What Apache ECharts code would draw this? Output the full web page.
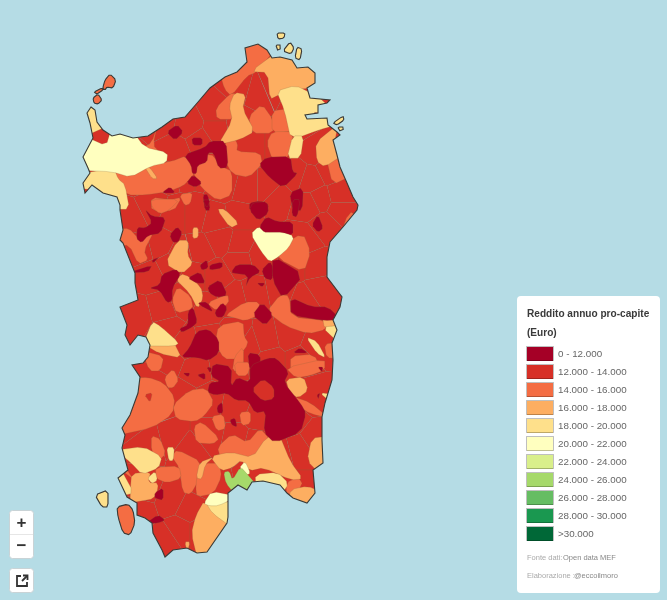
<!DOCTYPE html>
<html><head><meta charset="utf-8">
<style>html,body{margin:0;padding:0;background:#b5dce5}#c{width:667px;height:600px}#c canvas{filter:blur(.45px)}</style>
<script src="https://cdn.jsdelivr.net/npm/echarts@6/dist/echarts.min.js"></script>
</head><body><div id="c"></div>
<script>
// ---------- DATA ----------
const fasceLabel = ['0 - 12.000','12.000 - 14.000','14.000 - 16.000','16.000 - 18.000','18.000 - 20.000','20.000 - 22.000','22.000 - 24.000','24.000 - 26.000','26.000 - 28.000','28.000 - 30.000','>30.000'];
const fasceMin = [0,12000,14000,16000,18000,20000,22000,24000,26000,28000,30000];
const fasceMax = [12000,14000,16000,18000,20000,22000,24000,26000,28000,30000,99000];
const fasceColor = ['#a50026','#d73027','#f46d43','#fdae61','#fee08b','#ffffbf','#d9ef8b','#a6d96a','#66bd63','#1a9850','#006837'];
const redditoStimato = [11400,13100,15000,17000,19000,21000,23000,25000,27000,29000,31000];

// ---------- MAP GEOMETRY (hand-traced map asset, picture pixels) ----------
const costa = "91,107 95,110 97,122 103,130 112,136 120,134 133,138 148,136 162,127 173,119 185,117 198,102 210,88 225,77 237,72 247,62 245,48 258,44 267,50 272,58 280,57 292,60 297,68 308,67 315,73 315,83 307,88 310,98 330,100 327,103 318,105 318,113 305,115 307,119 327,118 328,125 337,132 340,135 333,140 337,155 340,167 347,183 353,197 358,205 357,210 343,227 330,242 327,257 327,277 342,297 340,307 333,320 337,330 332,343 333,360 332,380 325,403 322,417 322,440 323,463 313,470 315,493 307,503 293,498 287,493 280,485 263,481 252,482 247,490 238,485 228,493 228,517 227,523 207,552 197,553 187,548 173,550 165,557 162,550 153,533 152,523 145,518 137,515 137,503 127,497 118,478 128,470 122,448 125,435 122,428 130,415 138,393 140,377 132,365 143,363 148,357 150,345 146,337 138,335 130,345 125,335 127,325 120,307 138,300 135,283 135,273 123,243 120,240 123,230 120,210 120,205 117,197 103,193 92,185 85,193 83,183 90,173 88,168 83,157 93,138 90,123 87,113";
const isole = [
 [2,"103,87 105,80 110,74 116,80 113,88 107,87 105,90 103,89"],
 [2,"94,92 102,88 103,90 97,94"],
 [2,"93,98 98,94 102,100 98,104 94,103"],
 [4,"283,51 290,42 294,48 291,54"],
 [4,"297,47 302,49 300,60 295,58"],
 [4,"276,45 281,45 280,50 277,50"],
 [4,"277,33 285,33 284,38 278,39"],
 [4,"333,123 343,116 344,120 337,125"],
 [4,"338,127 344,127 343,130 339,131"],
 [4,"95,495 108,490 108,507 102,507"],
 [2,"117,507 128,504 133,510 135,523 130,535 123,533 118,517"]
];
const siti = "100,150 125,160 160,120 190,125 215,112 240,85 200,140 175,150 215,130 240,125 258,90 270,85 300,100 300,125 250,145 280,145 315,150 330,170 310,180 340,195 320,200 295,175 270,190 245,190 225,185 205,170 185,170 165,175 140,180 130,215 150,205 175,215 195,215 215,220 240,215 275,195 310,205 340,210 325,225 305,240 295,265 315,265 320,290 305,300 280,290 260,255 240,245 220,240 200,250 180,255 160,245 140,250 150,275 170,265 195,275 215,275 240,260 255,295 235,300 205,310 185,300 160,310 140,315 165,330 185,345 210,340 235,335 265,340 290,335 315,345 300,360 270,360 250,345 225,365 195,370 170,360 155,385 180,395 210,400 235,405 260,415 290,420 310,395 315,440 300,450 280,455 255,445 235,440 210,435 190,450 170,435 150,440 135,420 145,410 160,405 145,490 170,500 190,510 180,530 165,540 140,510 205,480 215,520 260,470 300,490 200,530";
const fasciaPoligoni = [
 [2,[ // 14-16
 "227,78 237,72 247,62 245,48 258,44 267,50 272,58 255,72 247,75 233,93 227,87","217,108 230,95 235,95 230,107 233,118 218,118","250,117 262,106 272,120 272,132 253,132","273,112 287,110 292,130 273,132","273,133 292,133 288,157 273,158 268,143","233,138 238,145 237,152 258,153 260,163 248,175 233,172 225,157 227,143","197,165 210,155 222,168 230,172 230,193 217,198 203,187 195,173","142,148 152,143 163,130 153,145 160,152","327,158 337,155 345,177 333,183","115,172 127,170 140,168 170,163 183,158 193,170 187,178 180,185 167,190 147,193 130,193 125,185","153,198 170,200 180,198 173,210 153,210","180,195 192,193 190,203 185,205","152,200 178,200 168,210 160,213 153,207","122,232 130,230 137,238 152,233 143,250 147,258 138,262 130,245 122,242","280,248 302,235 309,252 303,270 280,258","328,243 348,213 353,215 340,233 332,245","173,300 178,288 190,297 192,308 177,312","208,303 227,295 228,303 217,310","227,315 245,303 258,303 257,315 245,320 235,317","270,312 282,297 290,298 292,317 323,320 323,328 307,332 287,325","220,327 242,323 243,337 247,343 237,357 225,357 217,343","150,353 163,357 160,370 150,370","235,357 243,348 243,370 233,370","292,357 313,355 320,370 292,370","325,345 337,343 332,358 327,357","123,430 133,393 140,377 148,380 162,385 172,398 170,413 152,425 130,428","165,378 173,370 178,380 173,387 168,387","175,405 190,392 205,390 212,403 203,415 195,420 178,418","212,417 223,415 225,428 217,430","195,427 202,423 218,438 212,443 197,442","240,413 250,412 250,423 242,425","235,363 250,363 247,375 237,375","288,368 323,360 323,370 310,375 297,377","293,397 310,403 320,417 310,413 297,405","220,447 233,435 247,443 258,430 267,440 253,458 233,453 223,457","152,437 160,440 165,453 158,460 152,450","173,458 178,452 200,463 197,480 190,492 183,490 180,468","157,468 178,467 180,478 167,482 157,478","198,477 205,465 218,465 220,477 213,492 198,495 197,487","287,483 298,478 302,485 290,497","125,475 132,472 135,482"
 ]],
 [3,[ // 16-18
 "255,72 273,58 292,60 297,68 308,67 315,73 315,83 307,88 297,88 280,93 272,97 270,73","235,95 245,97 242,110 253,130 240,137 220,142 233,120 230,107","317,143 333,132 340,137 337,155 325,165 318,160","107,135 120,134 133,138 132,145 115,142 110,147","145,167 150,168 157,178 152,178","167,263 178,242 188,242 187,255 192,263 182,272","193,228 198,228 198,237 193,238","218,210 225,210 238,223 230,227","177,280 185,275 200,287 202,297 197,307 190,293","150,340 173,343 180,357 160,353","197,517 205,503 225,523 227,523 207,552 197,553 193,533","133,475 150,473 148,483 157,483 155,497 140,498 132,488","197,477 200,463 213,458 205,465 202,478","215,457 233,453 253,458 265,440 277,438 287,462 298,477 287,478 263,467 250,470 243,460 235,467 225,470","292,490 307,487 314,493 307,503 293,498","185,542 190,542 190,547 187,547","323,318 333,318 333,327 325,328","287,380 303,378 307,390 298,397 290,392","312,440 323,438 323,463 312,473 308,460"
 ]],
 [4,[ // 18-20
 "280,93 297,88 307,88 310,98 330,100 318,105 318,113 305,115 327,118 330,130 317,128 293,137 287,110","293,137 303,137 300,157 288,157","83,173 92,172 113,170 117,180 123,185 127,207 120,207 112,195 103,193 92,185 85,193","88,108 95,108 103,132 95,138 92,123","153,323 160,327 177,342 173,345 148,343 147,335","307,338 317,342 325,357 317,353","323,328 337,328 337,343 328,343","123,450 143,448 160,457 157,467 142,473 133,463","167,448 174,448 173,460 169,460","118,480 125,475 133,492 127,492","148,478 155,472 157,480 152,483","207,503 223,503 230,517 225,522 213,513","257,475 277,473 287,483 285,490 270,478 257,480","320,393 328,393 328,398 323,400"
 ]],
 [5,[ // 20-22
 "83,157 93,138 108,147 115,142 133,143 142,148 163,153 162,162 148,165 130,175 113,170 92,172","253,235 260,228 267,233 280,232 292,237 287,247 278,255 270,260 262,250","205,503 212,492 227,488 223,498 218,505 210,505","240,468 245,462 250,473 245,475"
 ]],
 [7,[ // 24-26
 "225,473 230,472 233,480 240,468 248,477 250,482 247,488 238,485 228,493 227,483"
 ]],
 [0,[ // 0-12
 "167,132 177,125 183,132 175,140","192,138 202,138 202,145 193,145","185,155 205,148 210,142 225,142 227,167 218,168 213,153 208,153 207,162 198,165 197,173 193,173 192,165","260,165 267,158 290,157 292,172 297,173 283,187 270,177","187,183 193,175 202,183 195,187","163,192 170,187 175,193 165,193","203,195 208,195 210,210 205,210","290,193 303,188 302,210 293,210","250,203 260,201 268,205 267,210 250,210","253,203 267,202 268,213 258,220 250,210","293,200 300,200 297,217 292,215","260,227 267,217 277,222 292,222 292,235 282,232 270,232 265,232","312,225 318,215 323,228 318,232","203,200 210,200 207,208","138,227 145,228 152,223 145,210 152,217 165,218 160,233 148,235 142,242 137,238","170,235 177,227 182,233 178,242 173,242","152,260 160,257 153,263","140,272 152,265 148,272","200,265 207,260 208,268 202,270","210,265 222,262 222,268 210,270","232,272 237,265 253,265 260,272 250,277 245,287 248,275 233,273","262,270 270,262 273,268 272,280 265,278","273,257 303,275 283,298 273,280","257,283 265,283 262,287","150,288 160,285 162,275 175,270 180,275 172,288 172,300 167,302 160,290","188,278 200,272 205,283 197,283","208,287 220,280 227,295 217,297 210,293","198,303 207,302 213,312 203,307","215,312 222,303 227,308 223,317 217,317","188,312 193,308 197,322 192,327 182,332 180,328 188,325","253,315 262,303 273,315 265,325","292,298 312,307 327,307 332,315 323,320 292,315","293,353 300,348 308,353","248,353 260,355 260,370 250,370","265,363 273,358 280,370 265,370","197,332 208,330 218,340 218,353 208,360 198,357 182,357 190,348","183,373 190,373 188,377","197,375 205,373 205,380","207,367 212,368 210,373","215,365 233,368 232,387 238,378 250,383 250,367 267,360 275,360 287,373 282,383 298,403 303,412 298,430 273,440 263,430 265,410 255,412 248,400 237,400 228,393 217,395 210,392 212,383 222,382 213,377","217,407 222,402 223,413 218,413","230,420 235,418 237,427 232,425","155,493 163,488 163,500 155,498","153,522 158,515 165,520 158,523","317,395 320,393 318,400","318,367 323,367 322,372"
 ]],
 [1,[ // 12-14 patches
 "253,390 263,380 273,388 273,398 263,400","145,395 152,393 150,402"
 ]]
];

// ---------- BUILD GEOJSON ----------
const parse = s => s.trim().split(/\s+/).map(p => p.split(',').map(Number));
const flip = pts => { const r = pts.map(p => [p[0], -p[1]]); r.push(r[0].slice()); return r; };
const area = r => { let a = 0; for (let i = 0; i < r.length - 1; i++) a += r[i][0]*r[i+1][1] - r[i+1][0]*r[i][1]; return a/2; };
const oriented = (r, positive) => (area(r) > 0) === positive ? r : r.slice().reverse();
// corner rounding of traced outlines
function round(pts, n) {
  for (let t = 0; t < n; t++) {
    const out = [];
    pts.forEach((a, i) => { const b = pts[(i+1)%pts.length];
      out.push([a[0]*.8+b[0]*.2, a[1]*.8+b[1]*.2], [a[0]*.2+b[0]*.8, a[1]*.2+b[1]*.8]); });
    pts = out;
  }
  return pts;
}
// traced polygons are grown a little from their centre to close the gaps between them
function grow(pts, k) {
  const cx = pts.reduce((s, p) => s + p[0], 0) / pts.length, cy = pts.reduce((s, p) => s + p[1], 0) / pts.length;
  return pts.map(p => [cx + (p[0]-cx)*k, cy + (p[1]-cy)*k]);
}
const coast = parse(costa);
function onLand(p) {
  let c = false;
  coast.forEach((a, i) => { const b = coast[(i+1)%coast.length];
    if ((a[1] > p[1]) !== (b[1] > p[1]) && p[0] < (b[0]-a[0])*(p[1]-a[1])/(b[1]-a[1])+a[0]) c = !c; });
  return c;
}
// traced vertices close to the shore are pushed past it, the sea layer trims them
function reachShore(p) {
  let best = null, bd = 1e9;
  coast.forEach((a, i) => { const b = coast[(i+1)%coast.length], dx = b[0]-a[0], dy = b[1]-a[1];
    const t = Math.max(0, Math.min(1, ((p[0]-a[0])*dx+(p[1]-a[1])*dy)/(dx*dx+dy*dy)));
    const q = [a[0]+t*dx, a[1]+t*dy], d = Math.hypot(p[0]-q[0], p[1]-q[1]);
    if (d < bd) { bd = d; best = {q, nx:-dy/Math.hypot(dx,dy), ny:dx/Math.hypot(dx,dy)}; } });
  if (bd > 5) return p;
  const s = onLand([best.q[0]+best.nx*1.5, best.q[1]+best.ny*1.5]) ? -1 : 1;
  return [best.q[0]+s*best.nx*7, best.q[1]+s*best.ny*7];
}

const features = [], seriesData = [];
function addCell(name, ring, band) {
  features.push({type:'Feature',properties:{name},geometry:{type:'Polygon',coordinates:[ring]}});
  seriesData.push({name, value:redditoStimato[band]});
}
// base of municipal cells (band 12-14) built from their seats
const sites = parse(siti);
sites.forEach((s, i) => {
  let poly = [[60,20],[380,20],[380,580],[60,580]];
  sites.forEach((o, j) => {
    if (i === j) return;
    const nx = o[0]-s[0], ny = o[1]-s[1], c = (o[0]*o[0]+o[1]*o[1]-s[0]*s[0]-s[1]*s[1])/2;
    const inside = p => p[0]*nx + p[1]*ny <= c;
    const out = [];
    poly.forEach((a, k) => {
      const b = poly[(k+1)%poly.length], ia = inside(a), ib = inside(b);
      if (ia) out.push(a);
      if (ia !== ib) { const t = (c - a[0]*nx - a[1]*ny)/((b[0]-a[0])*nx + (b[1]-a[1])*ny); out.push([a[0]+t*(b[0]-a[0]), a[1]+t*(b[1]-a[1])]); }
    });
    poly = out;
  });
  addCell('base'+i, flip(poly), 1);
});
fasciaPoligoni.forEach(([band, list], bi) => list.forEach((s, i) => {
  const k = band === 0 ? 1.06 : 1.12;
  addCell('c'+bi+'_'+i, flip(round(grow(parse(s), k).map(reachShore), 1)), band);
}));
isole.forEach(([band, s], i) => addCell('isola'+i, flip(parse(s)), band));
echarts.registerMap('comuni', {type:'FeatureCollection',features});

const holes = [coast].concat(isole.map(d => round(parse(d[1]), 1))).map(p => oriented(flip(p), false));
const frame = oriented(flip([[-60,-60],[727,-60],[727,660],[-60,660]]), true);
echarts.registerMap('mare', {type:'FeatureCollection',features:[{type:'Feature',properties:{name:'mare'},geometry:{type:'Polygon',coordinates:[frame].concat(holes)}}]});

// ---------- CHART ----------
const sea = '#b5dce5';
const bounds = [[0,0],[667,-600]];
const chart = echarts.init(document.getElementById('c'), null, {renderer:'canvas'});
const txt = (x,y,t,st) => ({type:'text',x,y,z:20,silent:true,style:Object.assign({text:t,fontFamily:'Liberation Sans',fill:'#444'},st)});
const iconLine = pts => ({type:'polyline',z:21,silent:true,shape:{points:pts},style:{fill:null,stroke:'#333',lineWidth:1.8}});
const graphics = [
 {type:'rect',z:4,silent:true,shape:{x:517,y:296,width:143,height:297,r:4},style:{fill:'#fff'}},
 txt(527,309,'Reddito annuo pro-capite',{fontSize:10.1,fontWeight:'bold',fill:'#3a3a3a'}),
 txt(527,328,'(Euro)',{fontSize:10.1,fontWeight:'bold',fill:'#3a3a3a'}),
 txt(527,554,'Fonte dati: ',{fontSize:7.5,fill:'#aaa'}),
 txt(563,554,'Open data MEF',{fontSize:7.5,fill:'#888'}),
 txt(527,572,'Elaborazione : ',{fontSize:7.5,fill:'#aaa'}),
 txt(574,572,'@eccoilmoro',{fontSize:7.5,fill:'#888'}),
 {type:'rect',z:20,silent:true,shape:{x:9.5,y:510.5,width:24,height:48,r:3},style:{fill:'#fff',stroke:'#c9d3d6',lineWidth:1}},
 {type:'line',z:20,silent:true,shape:{x1:10,y1:534.5,x2:33,y2:534.5},style:{stroke:'#e6e6e6',lineWidth:1}},
 txt(21.5,523,'+',{fontSize:17,fontWeight:'bold',fill:'#333',align:'center',verticalAlign:'middle'}),
 txt(21.5,546,'\u2212',{fontSize:17,fontWeight:'bold',fill:'#333',align:'center',verticalAlign:'middle'}),
 {type:'rect',z:20,silent:true,shape:{x:9.5,y:568.5,width:24,height:24,r:3},style:{fill:'#fff',stroke:'#c9d3d6',lineWidth:1}},
 iconLine([[21,576],[17,576],[17,586],[27,586],[27,582]]),
 iconLine([[22,581],[27,576]]),
 iconLine([[23,575.5],[27.5,575.5],[27.5,580]])
];
fasceColor.forEach((c, i) => graphics.push({type:'rect',z:20,silent:true,shape:{x:526.5,y:346.5+18*i,width:27,height:14},style:{fill:'none',stroke:'rgba(0,0,0,0.25)',lineWidth:1}}));

chart.setOption({
  animation:false,
  backgroundColor:sea,
  tooltip:{show:false},
  graphic:graphics,
  visualMap:{
    type:'piecewise', seriesIndex:0, left:527, top:347, padding:0, align:'left',
    itemWidth:26, itemHeight:14, itemGap:4, textGap:5, inverse:true, selectedMode:false, z:10,
    itemSymbol:'rect', showLabel:true,
    textStyle:{fontFamily:'Liberation Sans',fontSize:9.8,color:'#666'},
    pieces:fasceMin.map((m,i) => ({min:m,max:fasceMax[i],label:fasceLabel[i],color:fasceColor[i]}))
  },
  geo:{
    map:'mare', z:3, silent:true, roam:false, aspectScale:1, boundingCoords:bounds,
    left:0, top:0, width:667, height:600, label:{show:false},
    itemStyle:{areaColor:sea,borderColor:'#3a3a36',borderWidth:1.1},
    emphasis:{disabled:true}, select:{disabled:true}
  },
  series:[{
    type:'map', map:'comuni', z:2, silent:true, roam:false, aspectScale:1, boundingCoords:bounds,
    left:0, top:0, width:667, height:600, label:{show:false}, selectedMode:false,
    itemStyle:{borderColor:'rgba(135,100,60,0.45)',borderWidth:0.5},
    emphasis:{disabled:true},
    data:seriesData
  }]
});
</script></body></html>
